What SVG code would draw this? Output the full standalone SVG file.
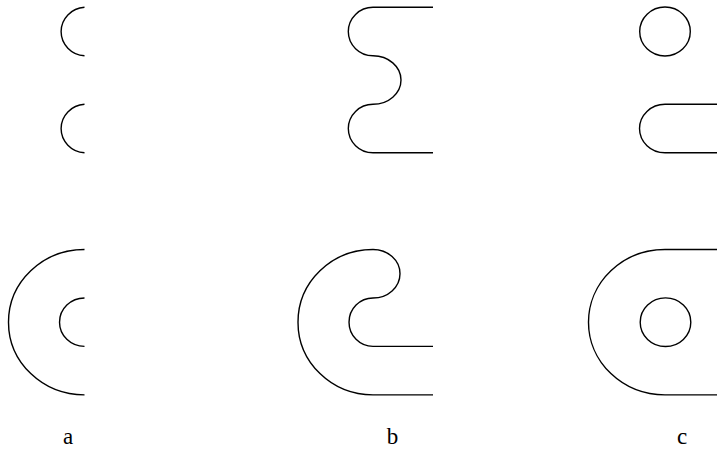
<svg xmlns="http://www.w3.org/2000/svg" width="717" height="449" viewBox="0 0 717 449">
<style>
.s{fill:none;stroke:#000;stroke-width:1.4}
.l{font-family:"Liberation Serif","DejaVu Serif",serif;font-size:23px;fill:#000;text-anchor:middle}
</style>
<rect width="717" height="449" fill="#fff"/>
<g id="a">
<path class="s" d="M84.5,7.3 A25,24.3 0 0 0 84.5,55.8"/>
<path class="s" d="M84.5,104.3 A25,24.3 0 0 0 84.5,152.8"/>
<path class="s" d="M84.5,249.5 A76,72.7 0 0 0 84.5,394.9"/>
<path class="s" d="M84.5,298 A25,24.2 0 0 0 84.5,346.4"/>
<text class="l" x="68" y="444">a</text>
</g>
<g id="b">
<path class="s" d="M433,7.3 H373 A24.7,24.25 0 0 0 373,55.8 A28,24.25 0 0 1 373,104.3 A24.7,24.25 0 0 0 373,152.8 H433"/>
<path class="s" d="M433,394.9 H373 A75,72.7 0 0 1 373,249.5 A27,24.25 0 0 1 373,298 A24,24.2 0 0 0 373,346.4 H433"/>
<text class="l" x="392.5" y="444">b</text>
</g>
<g id="c">
<ellipse class="s" cx="665" cy="31.5" rx="25.3" ry="24.5"/>
<path class="s" d="M717,104.3 H665 A25.5,24.25 0 0 0 665,152.8 H717"/>
<path class="s" d="M717,249.5 H665 A76.5,72.7 0 0 0 665,394.9 H717"/>
<ellipse class="s" cx="665.5" cy="322.2" rx="25.3" ry="24.3"/>
<text class="l" x="682" y="444">c</text>
</g>
</svg>
